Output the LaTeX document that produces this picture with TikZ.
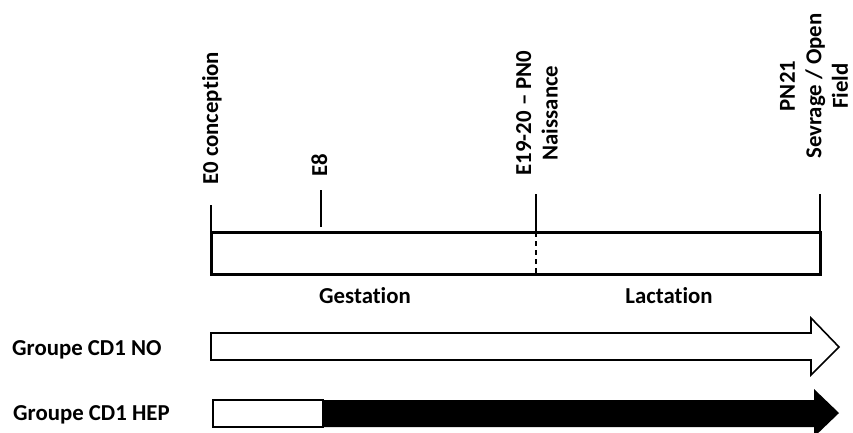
\documentclass[tikz,border=0pt]{standalone}
\usepackage{fontspec}
\setmainfont{Carlito}[Ligatures=NoCommon]
\usetikzlibrary{positioning}
\newcommand{\lblfont}{\fontsize{22.8}{26.5}\selectfont\bfseries}

\begin{document}
\begin{tikzpicture}[x=1pt, y=-1pt, line join=miter,
    tick/.style={line width=1.3pt},
    lbl/.style={font=\lblfont, inner sep=0pt},
    vlbl/.style={lbl, rotate=90, align=center},
    grp/.style={draw=black, line width=1.6pt}]
    \useasboundingbox (0,0) rectangle (853,432);
    \clip (0,0) rectangle (853,432);

    \coordinate (E0) at (211,232);
    \coordinate (E8) at (321,227);
    \coordinate (NAIS) at (536,232);
    \coordinate (PN21) at (820,232);
    \coordinate (NAISB) at (536,274);

    % frise
    \draw[line width=3pt] (E0) rectangle (820,274);
    \draw[tick] (E0) -- ++(0,-27);
    \draw[tick] (E8) -- ++(0,-37);
    \draw[tick] (NAIS) -- ++(0,-38);
    \draw[tick, dashed, dash pattern=on 5pt off 4pt] (NAIS) -- (NAISB);
    \draw[tick] (PN21) -- ++(0,-38);

    \node[vlbl, anchor=base west] (lE0) at (218,185) {E0 conception};
    \node[vlbl, anchor=base west] (lE8) at (327,177) {E8};
    \node[vlbl] (lNAIS) at (537,113) {E19-20 -- PN0\\Naissance};
    \node[vlbl] (lPN21) at (814,86) {PN21\\Sevrage / Open\\Field};

    \node[lbl, anchor=base] (gest) at (365,303) {Gestation};
    \node[lbl, anchor=base] (lact) at (669,303) {Lactation};

    % groupes
    \node[lbl, anchor=base west] (gNO) at (12,355) {Groupe CD1 NO};
    \node[lbl, anchor=base west] (gHEP) at (13,420) {Groupe CD1 HEP};

    \draw[grp, fill=white] (211,333) -- (811,333) -- (811,318) -- (839,347)
        -- (811,375) -- (811,360) -- (211,360) -- cycle;
    \draw[grp, fill=white] (213,400) rectangle (323,427);
    \fill[black] (323,400) -- (814,400) -- (814,389) -- (839,413)
        -- (814,437) -- (814,427) -- (323,427) -- cycle;
\end{tikzpicture}
\end{document}
